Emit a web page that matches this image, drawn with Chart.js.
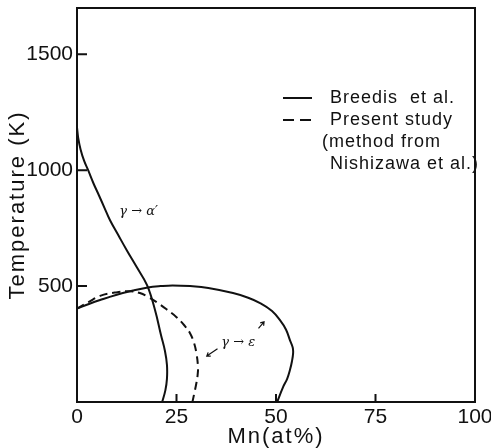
<!DOCTYPE html>
<html>
<head>
<meta charset="utf-8">
<script src="https://cdn.jsdelivr.net/npm/chart.js@4.4.1/dist/chart.umd.min.js"></script>
<style>
  html, body { margin: 0; padding: 0; background: #fff; }
</style>
</head>
<body>
<canvas id="chart" width="491" height="448"></canvas>
<script>
// Fe-Mn martensite start temperatures.
// Breedis et al., gamma -> alpha' line
const alphaMn = [0, 0.3, 0.9, 1.8, 2.8, 4.1, 5.5, 6.9, 8.3, 10.5, 12.5, 15, 17.6, 19.6, 21.1, 22.1, 22.6, 22.6, 22.2, 21.4];
const alphaT  = [1185, 1140, 1090, 1040, 1000, 945, 892, 838, 784, 716, 655, 582, 504, 397, 289, 220, 160, 100, 50, 0];

// Breedis et al., gamma -> epsilon line
const epsMn = [0, 3, 5.8, 10, 14.1, 17.8, 21, 24, 28.4, 33, 39.2, 43, 46, 49, 51, 52.5, 53.5, 54.2, 54.3, 54, 53.5, 52.8, 51.8, 50.3];
const epsT  = [403, 423, 440, 463, 481, 494, 500, 503, 500, 492, 470, 450, 427, 393, 353, 313, 267, 235, 211, 175, 138, 100, 65, 0];

// Present study (dashed)
const presentMn = [0, 3, 5.8, 9.5, 13.3, 15.8, 18, 20, 22.5, 25, 27, 28.4, 29.4, 30, 30.4, 30.3, 30, 29.5, 29];
const presentT  = [403, 432, 458, 472, 478, 470, 452, 431, 400, 366, 330, 297, 255, 211, 151, 115, 82, 40, 0];

const xTicks = [0, 25, 50, 75, 100];
const yTicks = [500, 1000, 1500];
const legendLabels = ['Breedis  et al.', 'Present study', '(method from', 'Nishizawa et al.)'];

const ink = '#111';
const toPoints = (xs, ys) => xs.map((x, i) => ({ x: x, y: ys[i] }));

// Letter-spaced axis titles: titles are drawn before the datasets, tick labels after.
const spacing = {
  id: 'spacing',
  beforeDraw(chart) { chart.ctx.letterSpacing = '2px'; },
  afterDatasetsDraw(chart) { chart.ctx.letterSpacing = '0px'; }
};

// Box frame, inward ticks, legend and the transformation labels.
const decor = {
  id: 'decor',
  afterDraw(chart) {
    const ctx = chart.ctx;
    const a = chart.chartArea;
    const xs = chart.scales.x;
    const ys = chart.scales.y;
    ctx.save();
    ctx.strokeStyle = ink;
    ctx.lineWidth = 2;
    ctx.beginPath();
    ctx.moveTo(a.left, a.top);
    ctx.lineTo(a.right, a.top);
    ctx.lineTo(a.right, a.bottom);
    // inward tick marks
    xTicks.slice(1, -1).forEach(v => {
      const px = xs.getPixelForValue(v);
      ctx.moveTo(px, a.bottom);
      ctx.lineTo(px, a.bottom - 8);
    });
    yTicks.forEach(v => {
      const py = ys.getPixelForValue(v);
      ctx.moveTo(a.left, py);
      ctx.lineTo(a.left + 10, py);
    });
    ctx.stroke();

    // legend
    const lx = 283, ly = 98, row = 22;
    chart.data.datasets.slice(0, 2).forEach((ds, i) => {
      ctx.setLineDash(i === 0 ? [] : [11, 6]);
      ctx.lineWidth = 2;
      ctx.beginPath();
      ctx.moveTo(lx, ly + i * row);
      ctx.lineTo(lx + 29, ly + i * row);
      ctx.stroke();
    });
    ctx.setLineDash([]);
    ctx.fillStyle = ink;
    ctx.font = '18px "Liberation Sans", Arial, sans-serif';
    ctx.letterSpacing = '1px';
    ctx.textBaseline = 'middle';
    ctx.textAlign = 'left';
    ctx.fillText(legendLabels[0], 330, ly);
    ctx.fillText(legendLabels[1], 330, ly + row);
    ctx.fillText(legendLabels[2], 322, ly + 2 * row);
    ctx.fillText(legendLabels[3], 330, ly + 3 * row);

    // transformation labels
    ctx.letterSpacing = '0px';
    ctx.font = 'italic 13px "DejaVu Serif", serif';
    ctx.textAlign = 'center';
    ctx.fillText('\u03b3 \u2192 \u03b1\u2032', xs.getPixelForValue(15.5), ys.getPixelForValue(820));
    ctx.fillText('\u03b3 \u2192 \u03b5', xs.getPixelForValue(40.5), ys.getPixelForValue(258));

    // small arrows next to gamma -> epsilon
    const arrow = (x0, y0, x1, y1) => {
      const p0 = [xs.getPixelForValue(x0), ys.getPixelForValue(y0)];
      const p1 = [xs.getPixelForValue(x1), ys.getPixelForValue(y1)];
      const ang = Math.atan2(p1[1] - p0[1], p1[0] - p0[0]);
      ctx.lineWidth = 1.2;
      ctx.beginPath();
      ctx.moveTo(p0[0], p0[1]);
      ctx.lineTo(p1[0], p1[1]);
      ctx.moveTo(p1[0] - 4 * Math.cos(ang - 0.6), p1[1] - 4 * Math.sin(ang - 0.6));
      ctx.lineTo(p1[0], p1[1]);
      ctx.lineTo(p1[0] - 4 * Math.cos(ang + 0.6), p1[1] - 4 * Math.sin(ang + 0.6));
      ctx.stroke();
    };
    arrow(35.3, 230, 32.6, 198);
    arrow(45.6, 318, 47, 346);
    ctx.restore();
  }
};

new Chart(document.getElementById('chart'), {
  type: 'scatter',
  data: {
    datasets: [
      {
        label: 'Breedis et al.',
        data: toPoints(alphaMn, alphaT),
        borderColor: ink,
        borderWidth: 2,
        showLine: true,
        tension: 0.4,
        pointRadius: 0
      },
      {
        label: 'Present study',
        data: toPoints(presentMn, presentT),
        borderColor: ink,
        borderWidth: 2,
        borderDash: [8, 5],
        showLine: true,
        tension: 0.4,
        pointRadius: 0
      },
      {
        label: 'Breedis et al. (epsilon)',
        data: toPoints(epsMn, epsT),
        borderColor: ink,
        borderWidth: 2,
        showLine: true,
        tension: 0.4,
        pointRadius: 0
      }
    ]
  },
  options: {
    responsive: false,
    animation: false,
    layout: { padding: { top: 8, right: 16, left: 0, bottom: 0 } },
    plugins: {
      legend: { display: false },
      tooltip: { enabled: false }
    },
    scales: {
      x: {
        type: 'linear',
        min: 0,
        max: 100,
        afterBuildTicks: scale => { scale.ticks = xTicks.map(v => ({ value: v })); },
        afterFit: scale => { scale.height = 46; scale.paddingLeft = 0; scale.paddingRight = 0; },
        grid: { display: false, drawTicks: false },
        border: { color: ink, width: 2 },
        ticks: {
          z: 1,
          padding: 3,
          color: ink,
          maxRotation: 0,
          autoSkip: false,
          callback: v => String(v),
          font: { family: '"Liberation Sans Narrow", "Liberation Sans", Arial', size: 21 }
        },
        title: {
          display: true,
          text: 'Mn(at%)',
          color: ink,
          padding: { top: 0, bottom: 0 },
          font: { family: '"Liberation Sans", Arial', size: 22, lineHeight: 1 }
        }
      },
      y: {
        type: 'linear',
        min: 0,
        max: 1700,
        afterBuildTicks: scale => { scale.ticks = yTicks.map(v => ({ value: v })); },
        afterFit: scale => { scale.width = 77; scale.paddingTop = 0; scale.paddingBottom = 0; },
        grid: { display: false, drawTicks: false },
        border: { color: ink, width: 2 },
        ticks: {
          z: 1,
          padding: 4,
          color: ink,
          callback: v => String(v),
          font: { family: '"Liberation Sans Narrow", "Liberation Sans", Arial', size: 21 }
        },
        title: {
          display: true,
          text: 'Temperature (K)',
          color: ink,
          padding: { top: 7, bottom: 0 },
          font: { family: '"Liberation Sans", Arial', size: 22, lineHeight: 1 }
        }
      }
    }
  },
  plugins: [spacing, decor]
});
</script>
</body>
</html>
